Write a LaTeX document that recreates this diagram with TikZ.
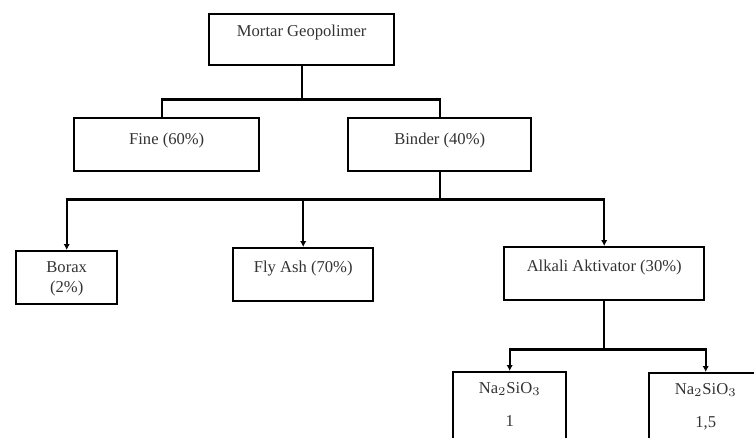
\documentclass[tikz,border=0pt]{standalone}
\usepackage{fontspec}
\setmainfont{Liberation Serif}
\usetikzlibrary{arrows.meta}

\tikzset{
  kotak/.style={draw, rectangle, line width=1.2pt, inner sep=0pt, anchor=north west,
    align=center, text=black!80, font=\fontsize{8.3}{10}\selectfont},
  garis/.style={line width=1.2pt},
  panah/.style={-{Latex[length=3pt,width=3.2pt]}, line width=1.2pt}
}

\begin{document}
\begin{tikzpicture}[x=0.5pt, y=-0.5pt]
\useasboundingbox (0,0) rectangle (754,438);
\clip (0,0) rectangle (754,438);

% top box
\node [kotak, minimum width=92.5pt, text height=11pt, text depth=14.5pt] (mortar) at (208,13) {Mortar Geopolimer};

% second level
\node [kotak, minimum width=92.5pt, text height=13pt, text depth=13.5pt] (fine) at (73,117) {Fine (60\%)};
\node [kotak, minimum width=91.5pt, text height=13pt, text depth=13.5pt] (binder) at (347,117) {Binder (40\%)};

% binder parts
\node [kotak, minimum width=50.5pt, text height=20.5pt, text depth=6pt] (borax) at (15,250) {Borax\\(2\%)};
\node [kotak, minimum width=70pt, text height=12pt, text depth=14.5pt] (flyash) at (232,247) {Fly Ash (70\%)};
\node [kotak, minimum width=100pt, text height=12pt, text depth=14.5pt] (alkali) at (503,246) {Alkali Aktivator (30\%)};

% activator ratios
\node [kotak, minimum width=56.5pt, text height=27pt, text depth=23pt] (nasatu) at (452,371) {Na$_2$SiO$_3$\\[6.5pt]1};
\node [kotak, minimum width=56.5pt, text height=27pt, text depth=23pt] (nadua) at (648,372) {Na$_2$SiO$_3$\\[6.5pt]1,5};

% mortar to fine and binder
\draw [garis] (mortar.south) -- ++(0,33) -| ([xshift=-2.5pt]fine.north);
\draw [garis] (mortar.south) -- ++(0,33) -| (binder.north);

% binder to parts
\draw [panah] (binder.south) -- ++(0,27) -| (borax.north);
\draw [panah] (binder.south) -- ++(0,27) -| (flyash.north);
\draw [panah] (binder.south) -- ++(0,27) -| (alkali.north);

% activator to ratios
\draw [panah] (alkali.south) -- ++(0,48) -| (nasatu.north);
\draw [panah] (alkali.south) -- ++(0,48) -| (nadua.north);
\end{tikzpicture}
\end{document}
